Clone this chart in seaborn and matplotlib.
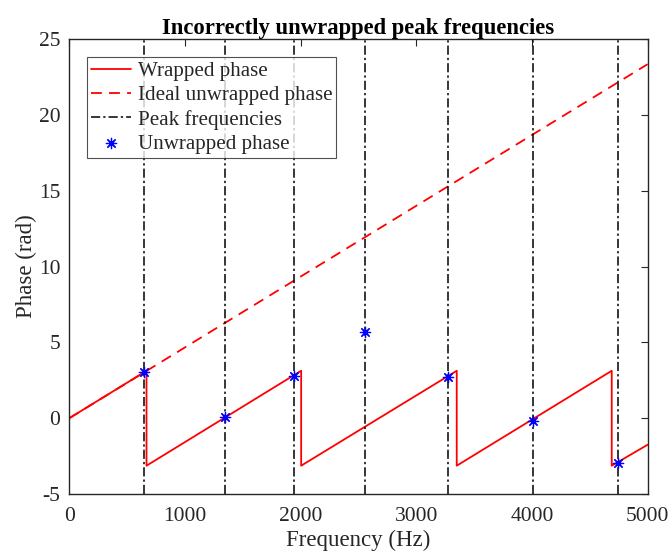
import numpy as np
import pandas as pd
import matplotlib
matplotlib.use("Agg")
import matplotlib.pyplot as plt
import seaborn as sns

# Data
wrapped_freq = [0, 668, 668, 2005, 2005, 3350, 3350, 4690, 4690, 5000]
wrapped_phase = [0, 3.13, -3.13, 3.13, -3.13, 3.13, -3.13, 3.13, -3.13, -1.75]
ideal_freq = [0, 5000]
ideal_phase = [0, 23.35]
peak_freqs = [649, 1350, 1944, 2555, 3275, 4013, 4744]
unwrapped_phase = [3.05, 0.05, 2.8, 5.7, 2.7, -0.2, -2.95]
xticks = [0, 1000, 2000, 3000, 4000, 5000]
yticks = [-5, 0, 5, 10, 15, 20, 25]

sns.set_theme(style="white")
plt.rcParams['font.family'] = ['Liberation Serif', 'DejaVu Serif']
plt.rcParams['axes.unicode_minus'] = False

fig = plt.figure(figsize=(6.69, 5.52), dpi=100)
ax = fig.add_axes([0.1035, 0.105, 0.8645, 0.824])

df_w = pd.DataFrame({"f": wrapped_freq, "p": wrapped_phase})
df_i = pd.DataFrame({"f": ideal_freq, "p": ideal_phase})
df_u = pd.DataFrame({"f": peak_freqs, "p": unwrapped_phase})

sns.lineplot(data=df_w, x="f", y="p", ax=ax, color="#ff0000", lw=1.3,
             estimator=None, sort=False, label="Wrapped phase")
sns.lineplot(data=df_i, x="f", y="p", ax=ax, color="#ff0000", lw=1.3,
             estimator=None, sort=False, label="Ideal unwrapped phase")
ax.lines[-1].set_linestyle((0, (6, 4)))
for i, f in enumerate(peak_freqs):
    ax.axvline(f, color="black", lw=1.1, ls=(0, (6, 2, 1.5, 2)),
               label="Peak frequencies" if i == 0 else None)
sns.scatterplot(data=df_u, x="f", y="p", ax=ax, marker=(8, 2, 0), s=55,
                color="#0000ff", edgecolor="#0000ff", linewidth=0.9,
                label="Unwrapped phase", zorder=5)

ax.set_xlim(0, 5000)
ax.set_ylim(-5, 25)
ax.set_xticks(xticks)
ax.set_yticks(yticks)
ax.tick_params(direction="in", length=5, width=0.8, top=True, right=True,
               labelsize=15.5, colors="#262626")
ax.tick_params(axis="x", pad=9)
ax.tick_params(axis="y", pad=6.5)
for s in ax.spines.values():
    s.set_visible(True)
    s.set_color("#262626")
    s.set_linewidth(1.0)
ax.set_xlabel("Frequency (Hz)", fontsize=16.5, color="#262626", labelpad=3)
ax.set_ylabel("Phase (rad)", fontsize=16.5, color="#262626", labelpad=1)
ax.set_title("Incorrectly unwrapped peak frequencies", fontsize=16.3,
             fontweight="bold", color="black", pad=4)

leg = ax.legend(loc="upper left", bbox_to_anchor=(0.031, 0.96), fontsize=15.1,
                frameon=True, fancybox=False, edgecolor="#262626",
                borderpad=0.2, labelspacing=0.21, handlelength=1.9,
                handletextpad=0.3, borderaxespad=0)
leg.get_frame().set_linewidth(0.8)

fig.savefig("out.png", dpi=100)
